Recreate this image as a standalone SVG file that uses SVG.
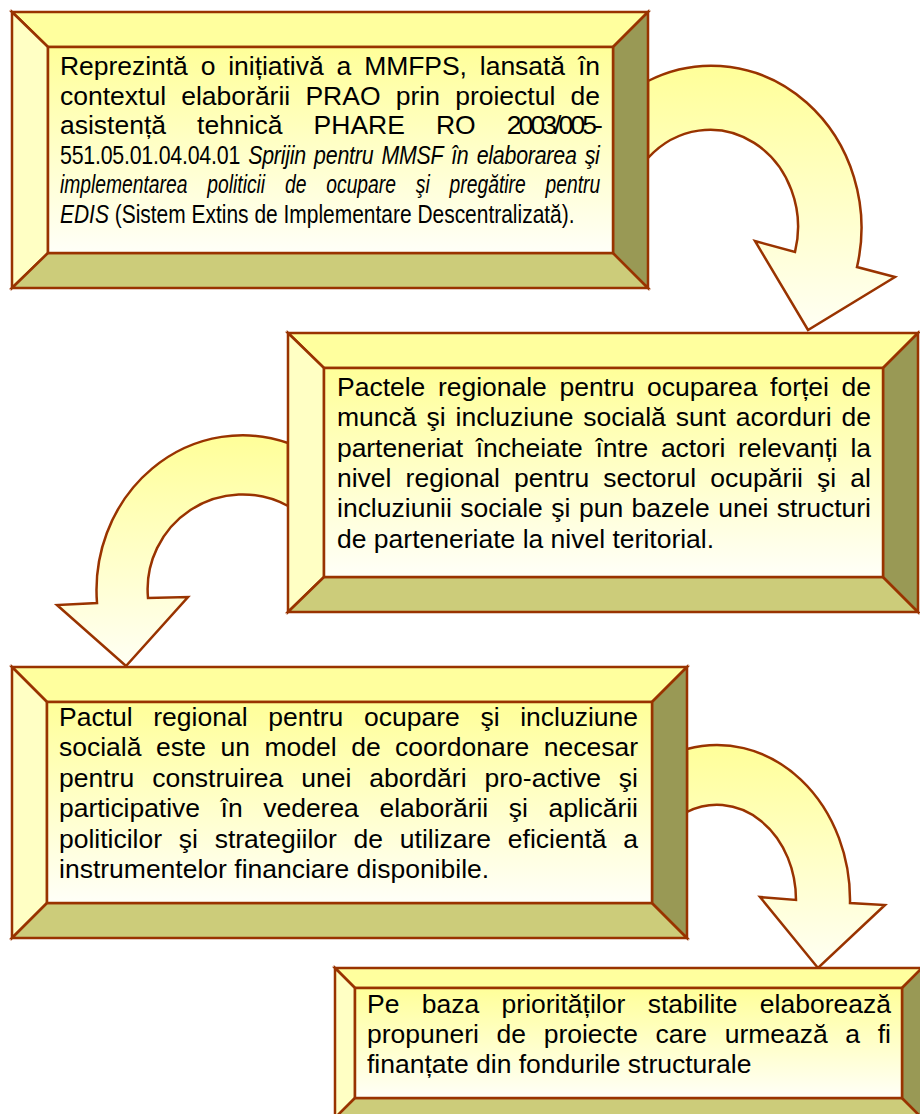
<svg xmlns="http://www.w3.org/2000/svg" width="920" height="1114" viewBox="0 0 920 1114">
<defs>
<linearGradient id="face" x1="0" y1="0" x2="0" y2="1">
<stop offset="0" stop-color="#FFFF99"/>
<stop offset="1" stop-color="#FFFFF8"/>
</linearGradient>
<linearGradient id="arrowFill" x1="0" y1="0" x2="0" y2="1">
<stop offset="0" stop-color="#FFFF99"/>
<stop offset="1" stop-color="#FFFFF4"/>
</linearGradient>
<style>
.ln{stroke:#993300;stroke-width:2.5;stroke-linejoin:miter}
.top{fill:#FFFF9E}
.left{fill:#FFFFC4}
.bot{fill:#CCCC7A}
.right{fill:#999955}
.face{fill:url(#face)}
.arrow{fill:url(#arrowFill);stroke:#993300;stroke-width:2.5;stroke-linejoin:miter}
text{font-family:"Liberation Sans",Arial,sans-serif;font-size:26.5px;fill:#000}
.it{font-style:italic}
</style>
</defs>
<rect width="920" height="1114" fill="#FFFFFF"/>
<g id="connectors">
<path class="arrow" d="M648,81 A150,162 0 0 1 857,267 L895,277 L808,330 L755,241 L795,252 A88,97 0 0 0 648,158 Z"/>
<path class="arrow" d="M288,443 A146,155 0 0 0 97,603 L57,605 L126,666 L188,597 L148,598 A95,95 0 0 1 288,506 Z"/>
<path class="arrow" d="M687,749 A133,155 0 0 1 850,903 L885,905 L818,968 L760,897 L796,900 A79,95 0 0 0 687,812 Z"/>
</g>
<g id="node1">
<polygon class="ln top" points="12,12 648,12 613,47 48,47"/>
<polygon class="ln left" points="12,12 48,47 48,253 12,288"/>
<polygon class="ln bot" points="12,288 48,253 613,253 648,288"/>
<polygon class="ln right" points="648,12 648,288 613,253 613,47"/>
<rect class="ln face" x="48" y="47" width="565" height="206"/>
<text x="60" y="75" word-spacing="5.6" textLength="540" lengthAdjust="spacing">Reprezintă o inițiativă a MMFPS, lansată în</text>
<text x="60" y="104.5" word-spacing="7.9" textLength="540" lengthAdjust="spacing">contextul elaborării PRAO prin proiectul de</text>
<text x="60" y="134" word-spacing="23.7" textLength="540" lengthAdjust="spacing">asistență tehnică PHARE RO <tspan letter-spacing="-2.9">2003/005-</tspan></text>
<text transform="translate(60,163.5) scale(0.807,1)" x="0" y="0" word-spacing="3" textLength="669" lengthAdjust="spacing">551.05.01.04.04.01 <tspan class="it">Sprijin pentru MMSF în elaborarea şi</tspan></text>
<text class="it" transform="translate(60,193) scale(0.727,1)" x="0" y="0" word-spacing="20" textLength="743" lengthAdjust="spacing">implementarea politicii de ocupare şi pregătire pentru</text>
<text transform="translate(60,222.5) scale(0.791,1)" x="0" y="0"><tspan class="it">EDIS</tspan> (Sistem Extins de Implementare Descentralizată).</text>
</g>
<g id="node2">
<polygon class="ln top" points="288,333 918,333 883,368 324,368"/>
<polygon class="ln left" points="288,333 324,368 324,577 288,612"/>
<polygon class="ln bot" points="288,612 324,577 883,577 918,612"/>
<polygon class="ln right" points="918,333 918,612 883,577 883,368"/>
<rect class="ln face" x="324" y="368" width="559" height="209"/>
<text x="337" y="396" word-spacing="5.2" textLength="534" lengthAdjust="spacing">Pactele regionale pentru ocuparea forței de</text>
<text x="337" y="426.3" word-spacing="2.6" textLength="534" lengthAdjust="spacing">muncă şi incluziune socială sunt acorduri de</text>
<text x="337" y="456.6" word-spacing="5.5" textLength="534" lengthAdjust="spacing">parteneriat încheiate între actori relevanți la</text>
<text x="337" y="486.9" word-spacing="6.8" textLength="534" lengthAdjust="spacing">nivel regional pentru sectorul ocupării şi al</text>
<text x="337" y="517.2" word-spacing="1.1" textLength="534" lengthAdjust="spacing">incluziunii sociale şi pun bazele unei structuri</text>
<text x="337" y="547.5">de parteneriate la nivel teritorial.</text>
</g>
<g id="node3">
<polygon class="ln top" points="12,667 687,667 652,702 47,702"/>
<polygon class="ln left" points="12,667 47,702 47,903 12,938"/>
<polygon class="ln bot" points="12,938 47,903 652,903 687,938"/>
<polygon class="ln right" points="687,667 687,938 652,903 652,702"/>
<rect class="ln face" x="47" y="702" width="605" height="201"/>
<text x="59" y="726" word-spacing="13.3" textLength="579" lengthAdjust="spacing">Pactul regional pentru ocupare şi incluziune</text>
<text x="59" y="756.4" word-spacing="7.1" textLength="579" lengthAdjust="spacing">socială este un model de coordonare necesar</text>
<text x="59" y="786.8" word-spacing="10.6" textLength="579" lengthAdjust="spacing">pentru construirea unei abordări pro-active şi</text>
<text x="59" y="817.2" word-spacing="13.3" textLength="579" lengthAdjust="spacing">participative în vederea elaborării şi aplicării</text>
<text x="59" y="847.6" word-spacing="9.4" textLength="579" lengthAdjust="spacing">politicilor şi strategiilor de utilizare eficientă a</text>
<text x="59" y="878">instrumentelor financiare disponibile.</text>
</g>
<g id="node4">
<polygon class="ln top" points="335,968 922,968 902,988 355,988"/>
<polygon class="ln left" points="335,968 355,988 355,1098 335,1118"/>
<polygon class="ln bot" points="335,1118 355,1098 902,1098 922,1118"/>
<polygon class="ln right" points="922,968 922,1118 902,1098 902,988"/>
<rect class="ln face" x="355" y="988" width="547" height="110"/>
<text x="367" y="1013" word-spacing="15" textLength="524" lengthAdjust="spacing">Pe baza priorităților stabilite elaborează</text>
<text x="367" y="1043" word-spacing="10.3" textLength="524" lengthAdjust="spacing">propuneri de proiecte care urmează a fi</text>
<text x="367" y="1073">finanțate din fondurile structurale</text>
</g>
</svg>
